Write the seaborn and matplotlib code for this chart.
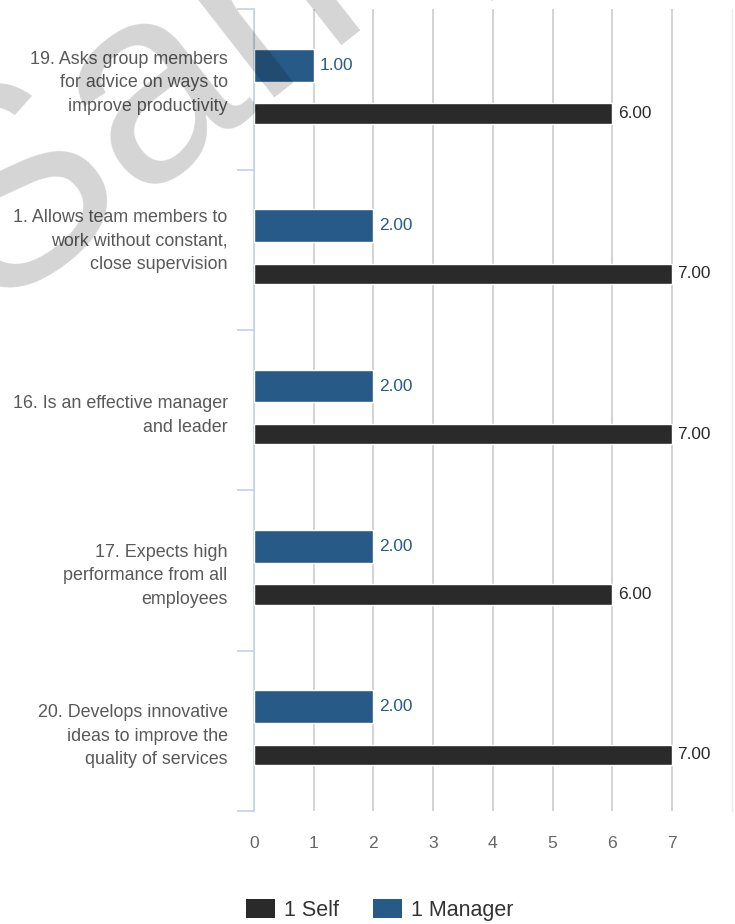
import numpy as np
import pandas as pd
import matplotlib
matplotlib.use("Agg")
import matplotlib.pyplot as plt
import matplotlib.transforms as mtransforms
from matplotlib.patches import Patch
import seaborn as sns

# Survey items (top to bottom) and the two rater groups
items = [
    "19. Asks group members\nfor advice on ways to\nimprove productivity",
    "1. Allows team members to\nwork without constant,\nclose supervision",
    "16. Is an effective manager\nand leader",
    "17. Expects high\nperformance from all\nemployees",
    "20. Develops innovative\nideas to improve the\nquality of services",
]
self_scores = [6.00, 7.00, 7.00, 6.00, 7.00]
manager_scores = [1.00, 2.00, 2.00, 2.00, 2.00]
series_names = ["1 Self", "1 Manager"]
x_tick_values = [0, 1, 2, 3, 4, 5, 6, 7]

SELF_COLOR = "#2a2a2a"
MANAGER_COLOR = "#285a88"
AXIS_BLUE = "#c3d2e2"
GRID_GRAY = "#c8c8c8"
LABEL_GRAY = "#595959"

df = pd.DataFrame({
    "Item": items * 2,
    "Score": self_scores + manager_scores,
    "Rater": [series_names[0]] * len(items) + [series_names[1]] * len(items),
})

sns.set_theme(style="white")
plt.rcParams["font.family"] = ["Liberation Sans", "DejaVu Sans"]

fig = plt.figure(figsize=(7.35, 9.24), dpi=100)
ax = fig.add_axes([0.3456, 0.1223, 0.650, 0.8676])

hue_order = [series_names[1], series_names[0]]
palette = {series_names[0]: SELF_COLOR, series_names[1]: MANAGER_COLOR}

# Manager bars: upper slot, thicker
sns.barplot(data=df[df["Rater"] == series_names[1]], x="Score", y="Item",
            hue="Rater", hue_order=hue_order, order=items, palette=palette,
            orient="h", width=0.6, gap=0.32, dodge=True, errorbar=None,
            legend=False, saturation=1, ax=ax, zorder=3)
# Self bars: lower slot, thinner
sns.barplot(data=df[df["Rater"] == series_names[0]], x="Score", y="Item",
            hue="Rater", hue_order=hue_order, order=items, palette=palette,
            orient="h", width=0.6, gap=0.58, dodge=True, errorbar=None,
            legend=False, saturation=1, ax=ax, zorder=3)

# Value labels at the bar ends
for cont in ax.containers:
    if len(cont) == 0:
        continue
    fc = matplotlib.colors.to_hex(cont[0].get_facecolor())
    color = MANAGER_COLOR if fc == MANAGER_COLOR else "#2a2a2a"
    texts = ax.bar_label(cont, fmt="%.2f", padding=4, color=color, fontsize=12.4)
    for t in texts:
        t.set_transform(t.get_transform() + mtransforms.ScaledTranslation(0, -2 / 72, fig.dpi_scale_trans))

ax.set_xlim(0, 8)
ax.set_ylim(len(items) - 0.5, -0.5)
ax.set_xticks(x_tick_values)
ax.set_xticklabels([str(v) for v in x_tick_values])
ax.set_xlabel("")
ax.set_ylabel("")

# Vertical grid lines
ax.grid(axis="x", color=GRID_GRAY, linewidth=1.1, zorder=0)
ax.grid(axis="y", visible=False)
ax.set_axisbelow(True)

# Spines
for side in ["top", "bottom"]:
    ax.spines[side].set_visible(False)
ax.spines["right"].set_color("#ececec")
ax.spines["right"].set_linewidth(1.0)
ax.spines["left"].set_color(AXIS_BLUE)
ax.spines["left"].set_linewidth(1.2)

ax.tick_params(axis="x", length=0, pad=18, labelsize=12.6, labelcolor="#666666")
ax.tick_params(axis="y", which="major", length=0, pad=19, labelsize=12.9, labelcolor=LABEL_GRAY)

# Category boundary ticks on the left axis
ax.set_yticks(np.arange(-0.5, len(items), 1.0), minor=True)
ax.tick_params(axis="y", which="minor", left=True, length=12.2, width=1.2, color=AXIS_BLUE)

# Multi-line item labels, right aligned
label_nudge_px = [12, 14, 0, 0, 0]
for lbl, nudge in zip(ax.get_yticklabels(), label_nudge_px):
    lbl.set_horizontalalignment("right")
    lbl.set_multialignment("right")
    lbl.set_linespacing(1.5)
    if nudge:
        lbl.set_transform(lbl.get_transform() + mtransforms.ScaledTranslation(0, nudge / 100, fig.dpi_scale_trans))

# Legend
handles = [Patch(facecolor=SELF_COLOR, edgecolor="none"),
           Patch(facecolor=MANAGER_COLOR, edgecolor="none")]
fig.legend(handles, series_names, loc="center", bbox_to_anchor=(380 / 735, 1 - 910 / 924),
           ncol=2, frameon=False, fontsize=15.5, handlelength=1.35, handleheight=0.98,
           handletextpad=0.42, columnspacing=1.58, labelcolor="#333333")

# Watermark
fig.text(-10 / 735, 1 - 310 / 924, "Sample", fontsize=200, rotation=38,
         rotation_mode="anchor", ha="left", va="baseline",
         color="black", alpha=0.17, zorder=10)

fig.savefig("out.png", dpi=100)
